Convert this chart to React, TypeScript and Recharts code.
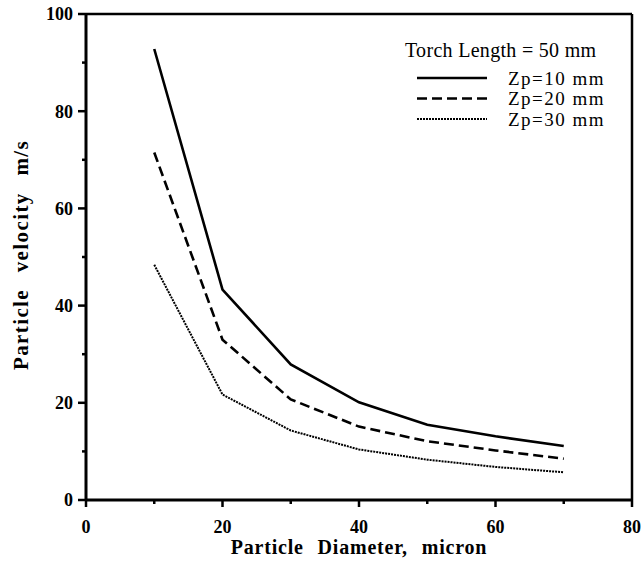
import React from 'react';
import {
  LineChart,
  Line,
  XAxis,
  YAxis,
  ReferenceLine
} from 'recharts';

const diameters = [10, 20, 30, 40, 50, 60, 70];
const zp10 = [92.8, 43.3, 27.9, 20.1, 15.5, 13.1, 11.1];
const zp20 = [71.5, 33, 20.7, 15.1, 12.1, 10.2, 8.5];
const zp30 = [48.4, 21.7, 14.3, 10.4, 8.3, 6.8, 5.7];

const xTicks = [0, 10, 20, 30, 40, 50, 60, 70, 80];
const yTicks = [0, 10, 20, 30, 40, 50, 60, 70, 80, 90, 100];

const legendTitle = 'Torch Length = 50 mm';
const seriesNames = ['Zp=10 mm', 'Zp=20 mm', 'Zp=30 mm'];
const seriesKeys = ['zp10', 'zp20', 'zp30'];
const seriesDash = ['0', '10 5', '2 1'];
const seriesWidth = [2.6, 2.6, 2];

const data = diameters.map((d, i) => ({
  d,
  zp10: zp10[i],
  zp20: zp20[i],
  zp30: zp30[i]
}));

const FONT = '"Liberation Serif", "Times New Roman", serif';

const XTick = (props: any) => {
  const { x, y, payload } = props;
  const major = payload.value % 20 === 0;
  return (
    <g>
      <line x1={x} x2={x} y1={y} y2={y + (major ? 7 : 4)} stroke="#000" strokeWidth={2.5} />
      {major && (
        <text x={x} y={y + 33} textAnchor="middle" fontFamily={FONT} fontWeight="bold" fontSize={18} fill="#000">
          {payload.value}
        </text>
      )}
    </g>
  );
};

const YTick = (props: any) => {
  const { x, y, payload } = props;
  const major = payload.value % 20 === 0;
  return (
    <g>
      <line x1={x} x2={x - (major ? 8 : 4)} y1={y} y2={y} stroke="#000" strokeWidth={2.5} />
      {major && (
        <text x={x - 13} y={y} dy="0.35em" textAnchor="end" fontFamily={FONT} fontWeight="bold" fontSize={18} fill="#000">
          {payload.value}
        </text>
      )}
    </g>
  );
};

const YTitle = (props: any) => {
  const { viewBox } = props;
  const cy = viewBox.y + viewBox.height / 2 - 2;
  const cx = 28;
  return (
    <text
      x={cx}
      y={cy}
      transform={`rotate(-90, ${cx}, ${cy})`}
      textAnchor="middle"
      fontFamily={FONT}
      fontWeight="bold"
      fontSize={21}
      fill="#000"
      style={{ letterSpacing: 1.4, wordSpacing: 10 }}
    >
      Particle velocity m/s
    </text>
  );
};

const legendRowY = [78, 98.5, 119];

const LegendOverlay = () => (
  <svg width={642} height={567} style={{ position: 'absolute', left: 0, top: 0, pointerEvents: 'none' }}>
    <text x={405} y={57} fontFamily={FONT} fontSize={20} fill="#000" style={{ letterSpacing: 0.3 }}>
      {legendTitle}
    </text>
    {seriesNames.map((name, i) => (
      <g key={name}>
        <line
          x1={417}
          x2={487}
          y1={legendRowY[i]}
          y2={legendRowY[i]}
          stroke="#000"
          strokeWidth={seriesWidth[i]}
          strokeDasharray={seriesDash[i]}
        />
        <text x={508} y={legendRowY[i] + 6.5} fontFamily={FONT} fontSize={19} fill="#000" style={{ letterSpacing: 1.5 }}>
          {name}
        </text>
      </g>
    ))}
  </svg>
);

export default function App() {
  return (
    <div style={{ position: 'absolute', left: 0, top: 0, width: 642, height: 567, background: '#fff' }}>
      <LineChart width={642} height={567} data={data} margin={{ top: 14, right: 10, bottom: 0, left: 0 }}>
        <XAxis
          dataKey="d"
          type="number"
          domain={[0, 80]}
          ticks={xTicks}
          interval={0}
          height={67}
          tickSize={0}
          tickMargin={0}
          tickLine={false}
          tick={<XTick />}
          axisLine={{ stroke: '#000', strokeWidth: 3 }}
          label={{
            value: 'Particle Diameter, micron',
            position: 'insideBottom',
            offset: 13,
            style: { fontFamily: FONT, fontWeight: 'bold', fontSize: 20, fill: '#000', wordSpacing: 8, letterSpacing: 0.8 }
          }}
        />
        <YAxis
          type="number"
          domain={[0, 100]}
          ticks={yTicks}
          interval={0}
          width={86}
          tickSize={0}
          tickMargin={0}
          tickLine={false}
          tick={<YTick />}
          axisLine={{ stroke: '#000', strokeWidth: 3 }}
          label={<YTitle />}
        />
        <ReferenceLine y={100} stroke="#000" strokeWidth={2.5} />
        <ReferenceLine x={80} stroke="#000" strokeWidth={2.5} />
        {seriesKeys.map((k, i) => (
          <Line
            key={k}
            dataKey={k}
            name={seriesNames[i]}
            type="linear"
            stroke="#000"
            strokeWidth={seriesWidth[i]}
            strokeDasharray={seriesDash[i]}
            dot={false}
            isAnimationActive={false}
          />
        ))}
      </LineChart>
      <LegendOverlay />
    </div>
  );
}
